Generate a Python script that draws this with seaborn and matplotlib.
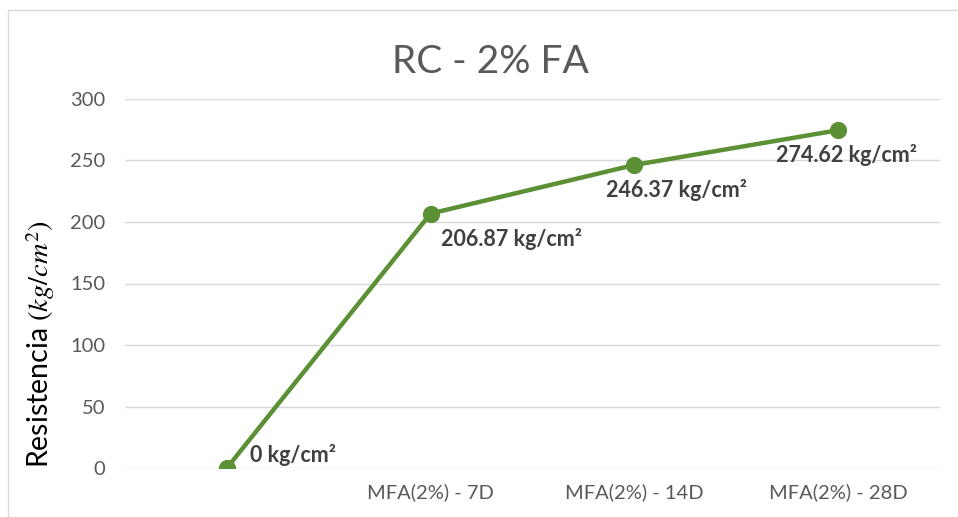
import matplotlib
matplotlib.use("Agg")
import matplotlib.pyplot as plt
import seaborn as sns
import pandas as pd
from matplotlib.patches import Rectangle

categories = ["", "MFA(2%) - 7D", "MFA(2%) - 14D", "MFA(2%) - 28D"]
values = [0, 206.87, 246.37, 274.62]
labels = ["0 kg/cm²", "206.87 kg/cm²", "246.37 kg/cm²", "274.62 kg/cm²"]
yticks = [0, 50, 100, 150, 200, 250, 300]

sns.set_theme(style="white")
plt.rcParams["font.family"] = ["Lato", "DejaVu Sans"]
plt.rcParams["mathtext.fontset"] = "stix"

green = "#5B9034"
txt = "#595959"

fig = plt.figure(figsize=(9.58, 5.17), dpi=100)
ax = fig.add_axes([125 / 958, 1 - 468 / 517, (940 - 125) / 958, (468 - 99) / 517])

df = pd.DataFrame({"cat": categories, "val": values})
sns.pointplot(data=df, x="cat", y="val", ax=ax, color=green, markers="o",
              markersize=10, linewidth=3.2, errorbar=None)

ax.set_ylim(0, 300)
ax.set_xlim(-0.5, 3.5)
ax.set_yticks(yticks)
ax.yaxis.grid(True, color="#D9D9D9", linewidth=1)
ax.set_axisbelow(True)
for s in ax.spines.values():
    s.set_visible(False)
ax.tick_params(axis="both", length=0, colors=txt, labelsize=14.5)
ax.tick_params(axis="y", pad=14)
ax.tick_params(axis="x", pad=11)
ax.set_xlabel("")
ax.set_ylabel("Resistencia $(kg/cm^2)$", fontsize=20.5, color="black")
ax.yaxis.set_label_coords(-0.084, 0.335)

offsets = [(23, 13), (10, -25), (-28, -25), (-62, -25)]
for i, (v, lab, off) in enumerate(zip(values, labels, offsets)):
    ax.annotate(lab, xy=(i, v), xytext=off, textcoords="offset pixels",
                ha="left", va="center", fontsize=15.5, fontweight="bold",
                color="#404040")

fig.text(490 / 958, 1 - 62 / 517, "RC - 2% FA", ha="center", va="center",
         fontsize=28, color=txt)

fig.patches.append(Rectangle((8 / 958, -0.01), 1.0, 1 - 10 / 517 + 0.01,
                             transform=fig.transFigure, fill=False,
                             edgecolor="#D9D9D9", linewidth=1))

fig.savefig("out.png", dpi=100)
